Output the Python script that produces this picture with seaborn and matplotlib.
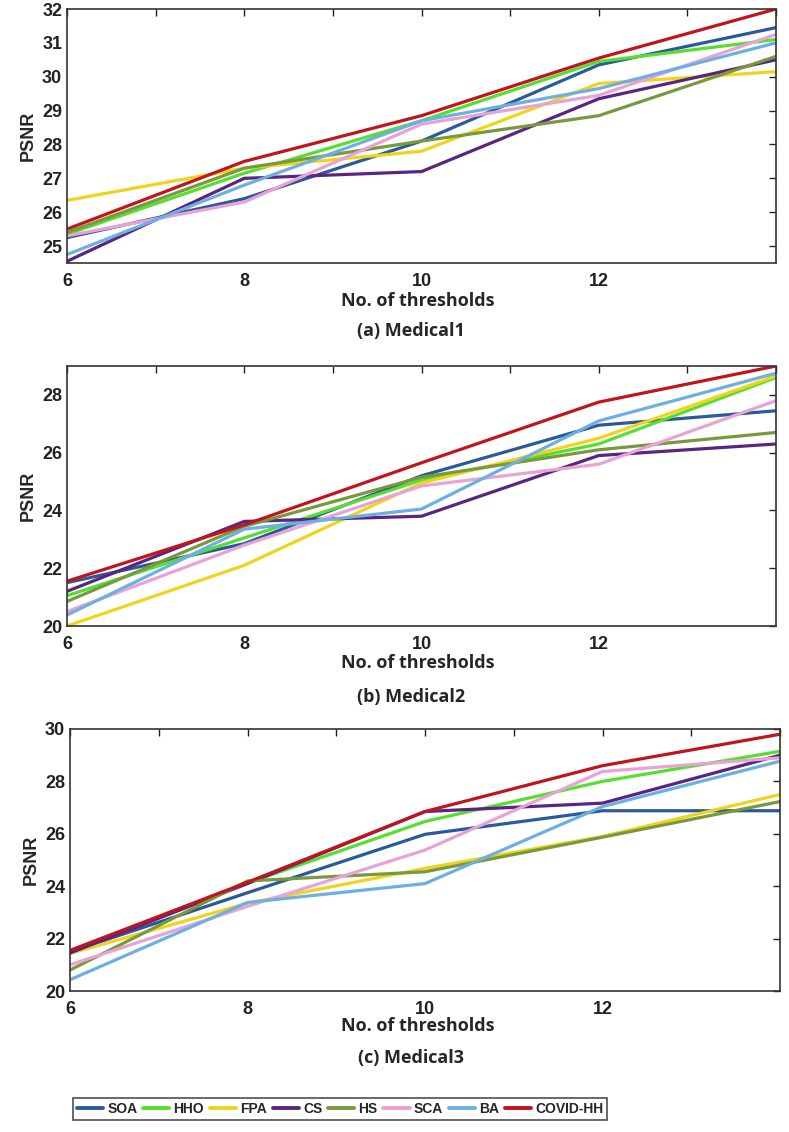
import numpy as np
import pandas as pd
import matplotlib.pyplot as plt
import seaborn as sns

# Style settings
sns.set_style("white")
plt.rcParams['font.family'] = ['Liberation Sans', 'DejaVu Sans']

thresholds = [6, 8, 10, 12, 14]
methods = ["SOA", "HHO", "FPA", "CS", "HS", "SCA", "BA", "COVID-HH"]
colors = ["#2a5a9b", "#55df2e", "#f0d41c", "#5a2580", "#78993c", "#e8a2d6", "#6cb0e2", "#c1141c"]

# PSNR values (one list per method)
med1_soa = [25.25, 26.4, 28.1, 30.35, 31.45]
med1_hho = [25.35, 27.15, 28.7, 30.45, 31.1]
med1_fpa = [26.35, 27.3, 27.8, 29.8, 30.15]
med1_cs = [24.55, 27.0, 27.2, 29.35, 30.5]
med1_hs = [25.4, 27.3, 28.1, 28.85, 30.6]
med1_sca = [25.3, 26.3, 28.6, 29.45, 31.25]
med1_ba = [24.75, 26.8, 28.7, 29.65, 31.0]
med1_covid = [25.5, 27.5, 28.85, 30.55, 32.0]

med2_soa = [21.5, 22.85, 25.2, 26.95, 27.45]
med2_hho = [21.05, 23.05, 25.05, 26.3, 28.6]
med2_fpa = [20.0, 22.1, 24.95, 26.5, 28.65]
med2_cs = [21.2, 23.62, 23.8, 25.9, 26.3]
med2_hs = [20.85, 23.45, 25.15, 26.1, 26.7]
med2_sca = [20.5, 22.8, 24.85, 25.6, 27.8]
med2_ba = [20.38, 23.35, 24.05, 27.1, 28.75]
med2_covid = [21.55, 23.5, 25.65, 27.75, 29.0]

med3_soa = [21.5, 23.75, 25.98, 26.88, 26.88]
med3_hho = [21.5, 24.12, 26.47, 28.0, 29.15]
med3_fpa = [21.43, 23.35, 24.68, 25.9, 27.5]
med3_cs = [21.45, 24.1, 26.85, 27.17, 29.0]
med3_hs = [20.8, 24.2, 24.55, 25.87, 27.23]
med3_sca = [21.0, 23.23, 25.38, 28.38, 28.9]
med3_ba = [20.43, 23.38, 24.1, 27.04, 28.77]
med3_covid = [21.55, 24.15, 26.85, 28.6, 29.8]

panels = [
    ("(a) Medical1", [med1_soa, med1_hho, med1_fpa, med1_cs, med1_hs, med1_sca, med1_ba, med1_covid],
     (24.5, 32), np.arange(25, 33, 1)),
    ("(b) Medical2", [med2_soa, med2_hho, med2_fpa, med2_cs, med2_hs, med2_sca, med2_ba, med2_covid],
     (20, 29), np.arange(20, 29, 2)),
    ("(c) Medical3", [med3_soa, med3_hho, med3_fpa, med3_cs, med3_hs, med3_sca, med3_ba, med3_covid],
     (20, 30), np.arange(20, 31, 2)),
]

W, H = 789, 1132
# axes boxes in pixels: left, top, right, bottom
boxes = [(67, 9, 776, 263), (67, 366, 776, 626), (70, 729, 780, 991)]
xlabel_y = [301, 663, 1026]
caption_y = [331, 697, 1058]

fig = plt.figure(figsize=(W / 100, H / 100), dpi=100)
palette = dict(zip(methods, colors))

for (caption, series, ylim, yticks), (l, t, r, b), xl_y, cap_y in zip(panels, boxes, xlabel_y, caption_y):
    ax = fig.add_axes([l / W, 1 - b / H, (r - l) / W, (b - t) / H])
    rows = []
    for m, vals in zip(methods, series):
        for x, v in zip(thresholds, vals):
            rows.append({"threshold": x, "PSNR": v, "method": m})
    df = pd.DataFrame(rows)
    sns.lineplot(data=df, x="threshold", y="PSNR", hue="method", hue_order=methods,
                 palette=palette, linewidth=2.3, legend=False, ax=ax)
    ax.set_xlim(6, 14)
    ax.set_ylim(*ylim)
    ax.set_xticks(range(6, 15))
    ax.set_xticklabels(["6", "", "8", "", "10", "", "12", "", ""])
    ax.set_yticks(yticks)
    ax.tick_params(direction="in", length=5, width=1, top=True, right=True,
                   labelsize=13, colors="#222222")
    ax.tick_params(axis="x", pad=7)
    for lab in ax.get_xticklabels() + ax.get_yticklabels():
        lab.set_fontweight("bold")
    for s in ax.spines.values():
        s.set_color("#333333")
        s.set_linewidth(1.2)
    ax.set_xlabel("")
    ax.set_ylabel("PSNR", fontsize=13, fontweight="bold", labelpad=4)
    fig.text(418 / W, 1 - xl_y / H, "No. of thresholds", ha="center", va="center",
             fontsize=13, fontweight="bold", family=["Open Sans", "DejaVu Sans"])
    fig.text(411 / W, 1 - cap_y / H, caption, ha="center", va="center",
             fontsize=13, fontweight="bold", family=["Open Sans", "DejaVu Sans"])

handles = [plt.Line2D([], [], color=c, lw=2.8) for c in colors]
leg = fig.legend(handles, methods, ncol=8, loc="center", bbox_to_anchor=(340 / W, 1 - 1109 / H),
                 frameon=True, fancybox=False, edgecolor="#222222", handlelength=1.9,
                 handletextpad=0.3, columnspacing=0.4, borderpad=0.3, borderaxespad=0.2,
                 prop={"weight": "bold", "size": 10})
leg.get_frame().set_linewidth(1.2)

fig.savefig("out.png", dpi=100)
